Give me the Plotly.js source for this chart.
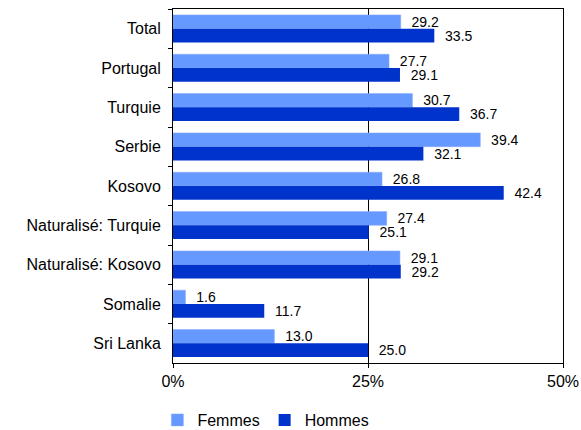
<!DOCTYPE html>
<html>
<head>
<meta charset="utf-8">
<script src="https://cdn.plot.ly/plotly-3.0.1.min.js"></script>
<style>html,body{margin:0;padding:0;background:#fff;}#chart{width:581px;height:430px;}</style>
</head>
<body>
<div id="chart"></div>
<script>
var categories = ["Total", "Portugal", "Turquie", "Serbie", "Kosovo", "Naturalisé: Turquie", "Naturalisé: Kosovo", "Somalie", "Sri Lanka"];
var femmes = [29.2, 27.7, 30.7, 39.4, 26.8, 27.4, 29.1, 1.6, 13.0];
var hommes = [33.5, 29.1, 36.7, 32.1, 42.4, 25.1, 29.2, 11.7, 25.0];
var xTicks = [0, 25, 50];

var font = "Liberation Sans, Arial, sans-serif";
var traces = [
  {type: "bar", orientation: "h", name: "Femmes", y: categories, x: femmes,
   marker: {color: "#6699FF", line: {color: "#88AAFF", width: 0.5}},
   text: femmes.map(function(v){return "\u00a0\u00a0" + v.toFixed(1);}),
   textposition: "outside", cliponaxis: false, constraintext: "none",
   textfont: {family: font, size: 14, color: "#000"}, hoverinfo: "none"},
  {type: "bar", orientation: "h", name: "Hommes", y: categories, x: hommes,
   marker: {color: "#0033CC"},
   text: hommes.map(function(v){return "\u00a0\u00a0" + v.toFixed(1);}),
   textposition: "outside", cliponaxis: false, constraintext: "none",
   textfont: {family: font, size: 14, color: "#000"}, hoverinfo: "none"}
];
var layout = {
  width: 581, height: 430,
  margin: {l: 173, r: 18, t: 9, b: 67, autoexpand: false},
  paper_bgcolor: "#fff", plot_bgcolor: "#fff",
  font: {family: font, size: 16, color: "#000"},
  barmode: "group", bargap: 0.3, bargroupgap: 0,
  showlegend: true,
  legend: {orientation: "h", x: -0.04, xanchor: "left", y: -0.161, yanchor: "middle",
           font: {family: font, size: 16, color: "#000"}, itemwidth: 30,
           traceorder: "normal", tracegroupgap: 0},
  xaxis: {range: [0, 50], tickvals: xTicks, ticktext: xTicks.map(function(v){return v + "%";}),
          showgrid: true, gridcolor: "#000", gridwidth: 1, zeroline: false,
          showline: true, linecolor: "#000", linewidth: 1, mirror: true,
          ticks: "outside", ticklen: 4, tickcolor: "#000",
          tickfont: {family: font, size: 16, color: "#000"}, fixedrange: true},
  yaxis: {type: "category", autorange: "reversed", showgrid: false, zeroline: false,
          showline: true, linecolor: "#000", linewidth: 1, mirror: true,
          ticks: "outside", ticklen: 4, tickcolor: "#000", tickson: "boundaries",
          ticklabelstandoff: 8,
          tickfont: {family: font, size: 16, color: "#000"}, fixedrange: true}
};
Plotly.newPlot("chart", traces, layout, {displayModeBar: false, staticPlot: true});
</script>
</body>
</html>
